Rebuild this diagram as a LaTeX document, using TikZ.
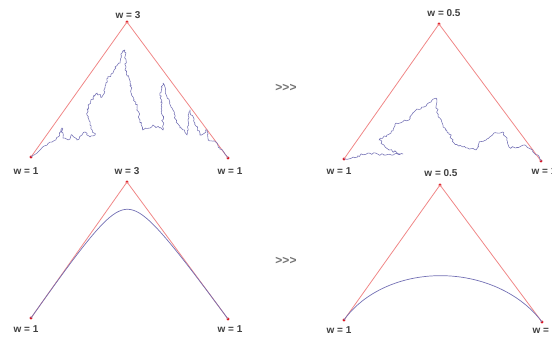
\documentclass[tikz,border=0pt]{standalone}
\usepackage{fontspec}
\setmainfont{Liberation Sans}
\usetikzlibrary{decorations.pathmorphing}
\definecolor{hullred}{RGB}{240,135,135}
\definecolor{curveblue}{RGB}{115,112,180}
\definecolor{dotred}{RGB}{220,20,30}
\tikzset{
  ctrl/.style={circle, fill=dotred, inner sep=0pt, minimum size=3.2pt},
  wlabel/.style={font=\bfseries\fontsize{10}{11}\selectfont, text=black!75, inner sep=0pt},
  arrowtext/.style={font=\bfseries\fontsize{12}{12}\selectfont, text=black!55, inner sep=0pt},
  hull/.style={draw=hullred, line width=0.8pt},
  conic/.style={draw=curveblue, line width=0.7pt},
  rough/.style={draw=curveblue, line width=0.55pt, line join=round, decorate,
    decoration={random steps, segment length=1.8pt, amplitude=1.2pt}}
}
\pgfmathsetseed{11}
\begin{document}
\begin{tikzpicture}[x=1pt, y=-1pt]
\useasboundingbox (0,0) rectangle (552,342);

% top left, w = 3
\node[ctrl] (tla) at (31,157) {};
\node[ctrl] (tlb) at (127,22) {};
\node[ctrl] (tlc) at (228,158) {};
\node[wlabel] (tla-w) at (26,171) {w = 1};
\node[wlabel] (tlb-w) at (128,15) {w = 3};
\node[wlabel] (tlc-w) at (230,171) {w = 1};
\draw[hull] (tla.center) -- (tlb.center) -- (tlc.center);
\draw[rough] (tla.center) -- (40,150) -- (47,145) -- (52,142) -- (58,137) -- (62,128)
  -- (63,138) -- (68,140) -- (72,135) -- (77,140) -- (82,135) -- (85,132) -- (90,137)
  -- (95,135) -- (90,125) -- (87,115) -- (88,105) -- (93,98) -- (97,93) -- (102,97)
  -- (105,88) -- (108,78) -- (113,73) -- (115,67) -- (120,63) -- (122,53) -- (125,50)
  -- (126,67) -- (125,70) -- (130,83) -- (133,97) -- (137,107) -- (140,120) -- (143,130)
  -- (150,128) -- (153,125) -- (163,130) -- (162,107) -- (160,93) -- (163,83) -- (167,97)
  -- (173,110) -- (177,123) -- (187,135) -- (188,120) -- (190,110) -- (195,123)
  -- (200,135) -- (207,130) -- (208,140) -- (217,143) -- (220,148) -- (tlc.center);

% top right, w = 0.5
\node[ctrl] (tra) at (344,159) {};
\node[ctrl] (trb) at (439,24) {};
\node[ctrl] (trc) at (541,161) {};
\node[wlabel] (tra-w) at (339,171) {w = 1};
\node[wlabel] (trb-w) at (444,13) {w = 0.5};
\node[wlabel] (trc-w) at (544,171) {w = 1};
\draw[hull] (tra.center) -- (trb.center) -- (trc.center);
\draw[rough] (tra.center) -- (353,157) -- (369,153) -- (386,155) -- (403,154) -- (389,150)
  -- (379,140) -- (391,133) -- (396,123) -- (409,120) -- (416,110) -- (424,107)
  -- (431,102) -- (436,98) -- (438,115) -- (443,127) -- (449,133) -- (454,143)
  -- (463,147) -- (476,150) -- (479,143) -- (486,140) -- (494,133) -- (503,132)
  -- (506,137) -- (509,147) -- (516,148) -- (524,145) -- (533,150) -- (trc.center);

\node[arrowtext] (next-top) at (286,88) {>{}>{}>};

% bottom left, w = 3
\node[ctrl] (bla) at (31,318) {};
\node[ctrl] (blb) at (127,182) {};
\node[ctrl] (blc) at (228,319) {};
\node[wlabel] (bla-w) at (26,329) {w = 1};
\node[wlabel] (blb-w) at (127,171) {w = 3};
\node[wlabel] (blc-w) at (230,329) {w = 1};
\draw[hull] (bla.center) -- (blb.center) -- (blc.center);
\draw[conic] plot[variable=\t, domain=0:1, samples=90]
  ({((1-\t)^2*31 + 8*\t*(1-\t)*127 + \t^2*228)/((1-\t)^2 + 8*\t*(1-\t) + \t^2)},
   {((1-\t)^2*318 + 8*\t*(1-\t)*182 + \t^2*319)/((1-\t)^2 + 8*\t*(1-\t) + \t^2)});

% bottom right, w = 0.5
\node[ctrl] (bra) at (344,320) {};
\node[ctrl] (brb) at (440,185) {};
\node[ctrl] (brc) at (542,322) {};
\node[wlabel] (bra-w) at (339,330) {w = 1};
\node[wlabel] (brb-w) at (441,173) {w = 0.5};
\node[wlabel] (brc-w) at (545,330) {w = 1};
\draw[hull] (bra.center) -- (brb.center) -- (brc.center);
\draw[conic] plot[variable=\t, domain=0:1, samples=90]
  ({((1-\t)^2*344 + 1*\t*(1-\t)*440 + \t^2*542)/((1-\t)^2 + 1*\t*(1-\t) + \t^2)},
   {((1-\t)^2*320 + 1*\t*(1-\t)*185 + \t^2*322)/((1-\t)^2 + 1*\t*(1-\t) + \t^2)});

\node[arrowtext] (next-bottom) at (286,261) {>{}>{}>};
\end{tikzpicture}
\end{document}
